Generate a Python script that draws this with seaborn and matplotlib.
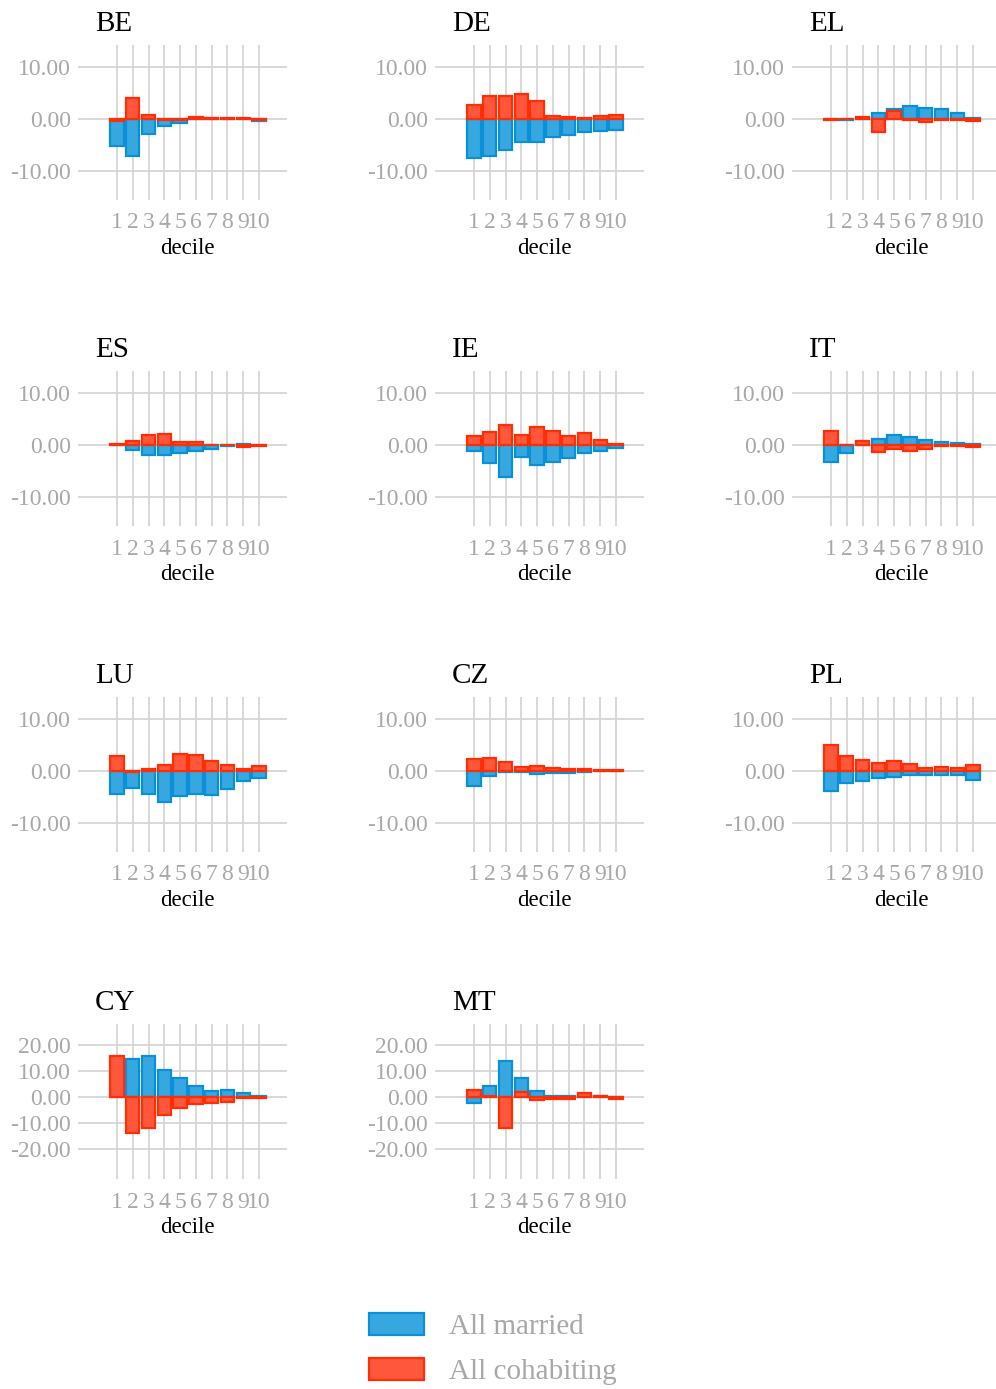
import matplotlib
matplotlib.use("Agg")
import matplotlib.pyplot as plt
import matplotlib.patches as mpatches
import pandas as pd
import seaborn as sns

# data
countries = ['BE', 'DE', 'EL', 'ES', 'IE', 'IT', 'LU', 'CZ', 'PL', 'CY', 'MT']
deciles = list(range(1, 11))
series = ['All married', 'All cohabiting']

married = [
    [-5.2, -7.2, -3.0, -1.3, -0.8, 0.2, 0.1, 0.0, 0.0, -0.4],     # BE
    [-7.6, -7.2, -6.0, -4.5, -4.4, -3.5, -3.1, -2.6, -2.4, -2.1],  # DE
    [-0.1, -0.3, 0.1, 1.1, 1.8, 2.4, 2.0, 1.8, 1.1, 0.25],        # EL
    [-0.1, -1.0, -1.9, -1.9, -1.5, -1.2, -0.8, -0.2, 0.2, 0.0],   # ES
    [-1.2, -3.4, -6.1, -2.4, -3.8, -3.2, -2.6, -1.5, -1.1, -0.6],  # IE
    [-3.3, -1.6, 0.5, 1.1, 1.9, 1.5, 0.9, 0.6, 0.3, 0.15],        # IT
    [-4.5, -3.2, -4.5, -6.0, -4.8, -4.4, -4.6, -3.4, -2.0, -1.4],  # LU
    [-3.0, -1.0, -0.2, -0.2, -0.6, -0.4, -0.5, -0.3, -0.1, -0.1],  # CZ
    [-3.8, -2.3, -1.9, -1.3, -1.2, -0.8, -0.8, -0.8, -0.8, -1.7],  # PL
    [0.1, 14.7, 15.9, 10.4, 7.3, 4.4, 2.4, 2.8, 1.7, 0.5],        # CY
    [-2.4, 4.4, 14.0, 7.4, 2.3, 0.3, 0.3, 0.4, 0.3, 0.0],         # MT
]
cohabiting = [
    [-0.5, 4.0, 0.7, -0.3, -0.3, 0.3, 0.1, 0.1, 0.1, -0.2],       # BE
    [2.7, 4.3, 4.3, 4.7, 3.4, 0.6, 0.4, 0.2, 0.6, 0.8],           # DE
    [-0.2, 0.0, 0.3, -2.5, 1.5, -0.2, -0.6, -0.2, -0.2, -0.4],    # EL
    [0.2, 0.8, 1.9, 2.0, 0.6, 0.5, -0.1, -0.1, -0.4, -0.2],       # ES
    [1.7, 2.5, 3.9, 1.8, 3.4, 2.7, 1.7, 2.3, 1.0, 0.2],           # IE
    [2.6, -0.1, 0.8, -1.4, -0.8, -1.2, -0.8, -0.3, -0.2, -0.4],   # IT
    [2.9, -0.3, 0.3, 1.1, 3.2, 3.0, 1.9, 1.1, 0.4, 1.0],          # LU
    [2.2, 2.4, 1.7, 0.8, 1.0, 0.6, 0.4, 0.4, 0.2, 0.1],           # CZ
    [4.9, 2.8, 2.1, 1.5, 1.9, 1.4, 0.6, 0.8, 0.5, 1.2],           # PL
    [15.9, -13.8, -11.8, -6.9, -4.2, -2.6, -2.2, -1.7, -0.5, -0.5],  # CY
    [2.8, 0.4, -12.0, 1.8, -1.3, -0.9, -0.9, 1.4, 0.6, -0.6],     # MT
]
wide_panels = ['CY', 'MT']

rows = []
for i, c in enumerate(countries):
    for j, d in enumerate(deciles):
        rows.append((c, d, 'All married', married[i][j]))
        rows.append((c, d, 'All cohabiting', cohabiting[i][j]))
df = pd.DataFrame(rows, columns=['country', 'decile', 'series', 'value'])

fill = {'All married': '#36A8DF', 'All cohabiting': '#FF573B'}
edge = {'All married': '#0B8FD8', 'All cohabiting': '#FF2E05'}
grey = '#A8A8A8'
gridc = '#D6D6D6'

sns.set_theme(style='whitegrid')
plt.rcParams['font.family'] = ['Liberation Serif', 'DejaVu Serif']

W, H = 996, 1389
fig = plt.figure(figsize=(W / 100, H / 100), dpi=100)

col_left = [78, 435, 792]
row_top = [45, 371, 697, 1024]
pw, ph = 209, 155

for i, c in enumerate(countries):
    r, k = divmod(i, 3)
    ax = fig.add_axes([col_left[k] / W, 1 - (row_top[r] + ph) / H, pw / W, ph / H])
    d = df[df.country == c]
    for s in series:
        sns.barplot(data=d[d.series == s], x='decile', y='value', native_scale=True,
                    color=fill[s], edgecolor=edge[s], linewidth=1.6, width=0.85,
                    saturation=1, errorbar=None, ax=ax)
    ax.set_xlim(-1.47, 11.77)
    ax.set_xticks(deciles)
    if c in wide_panels:
        ax.set_ylim(-31.5, 28.1)
        ax.set_yticks([-20, -10, 0, 10, 20])
    else:
        ax.set_ylim(-15.6, 14.2)
        ax.set_yticks([-10, 0, 10])
    ax.set_yticklabels([f'{v:.2f}' for v in ax.get_yticks()])
    ax.set_facecolor('white')
    ax.grid(True, color=gridc, linewidth=1.3)
    ax.set_axisbelow(True)
    for sp in ax.spines.values():
        sp.set_visible(False)
    ax.tick_params(axis='both', length=0, labelsize=17, labelcolor=grey)
    ax.tick_params(axis='x', pad=9)
    ax.tick_params(axis='y', pad=5)
    ax.set_ylabel('')
    ax.set_xlabel('decile', fontsize=16.5, color='black', labelpad=3)
    ax.xaxis.label.set_x(0.524)
    fig.text((col_left[k] + 17) / W, 1 - (row_top[r] - 14) / H, c,
             fontsize=21, color='black', ha='left', va='baseline')

handles = [mpatches.Patch(facecolor=fill[s], edgecolor=edge[s], linewidth=1.6) for s in series]
fig.legend(handles, series, loc='center left', bbox_to_anchor=(369 / W, 1 - 1349 / H),
           frameon=False, fontsize=21, labelcolor=grey, handlelength=1.9,
           handleheight=0.8, handletextpad=0.85, labelspacing=0.6,
           borderpad=0, borderaxespad=0)

fig.savefig('out.png', dpi=100)
